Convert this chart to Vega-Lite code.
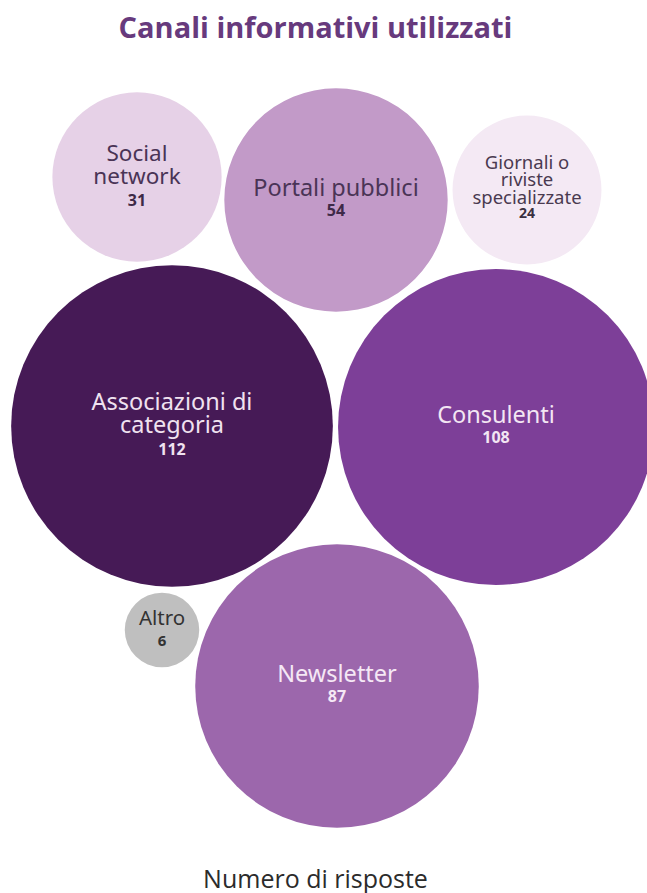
{
  "$schema": "https://vega.github.io/schema/vega-lite/v6.json",
  "width": 647,
  "height": 833,
  "autosize": {"type": "none"},
  "padding": {"top": 60, "left": 0, "right": 0, "bottom": 0},
  "background": "white",
  "title": {
    "text": "Canali informativi utilizzati",
    "orient": "top",
    "anchor": "middle",
    "frame": "group",
    "dx": -8,
    "dy": 27,
    "offset": 20,
    "baseline": "alphabetic",
    "font": "Open Sans",
    "fontSize": 29,
    "fontWeight": "bold",
    "color": "#673a7d"
  },
  "config": {"view": {"stroke": null}},
  "data": {
    "values": [
      {"name": "Social network", "label": "Social\nnetwork", "value": 31, "cx": 137, "cy": 177},
      {"name": "Portali pubblici", "label": "Portali pubblici", "value": 54, "cx": 336, "cy": 200},
      {"name": "Giornali o riviste specializzate", "label": "Giornali o\nriviste\nspecializzate", "value": 24, "cx": 527, "cy": 190},
      {"name": "Associazioni di categoria", "label": "Associazioni di\ncategoria", "value": 112, "cx": 172, "cy": 426},
      {"name": "Consulenti", "label": "Consulenti", "value": 108, "cx": 496, "cy": 427},
      {"name": "Newsletter", "label": "Newsletter", "value": 87, "cx": 337, "cy": 686},
      {"name": "Altro", "label": "Altro", "value": 6, "cx": 162, "cy": 630}
    ]
  },
  "encoding": {
    "x": {
      "field": "cx",
      "type": "quantitative",
      "scale": {"domain": [0, 647], "nice": false, "zero": false},
      "axis": {
        "title": "Numero di risposte",
        "domain": false,
        "ticks": false,
        "labels": false,
        "grid": false,
        "titleFont": "Open Sans",
        "titleFontSize": 25,
        "titleFontWeight": "normal",
        "titleColor": "#2b2b2b",
        "titleBaseline": "alphabetic",
        "titleAlign": "center",
        "titleX": 315,
        "titleY": -6
      }
    },
    "y": {
      "field": "cy",
      "type": "quantitative",
      "scale": {"domain": [60, 893], "reverse": true, "nice": false, "zero": false},
      "axis": null
    }
  },
  "layer": [
    {
      "mark": {"type": "circle", "opacity": 1, "strokeWidth": 0},
      "encoding": {
        "size": {
          "field": "value",
          "type": "quantitative",
          "scale": {"type": "linear", "zero": true, "domain": [0, 112], "range": [0, 103500]},
          "legend": null
        },
        "color": {
          "field": "name",
          "type": "nominal",
          "scale": {
            "domain": ["Social network", "Portali pubblici", "Giornali o riviste specializzate", "Associazioni di categoria", "Consulenti", "Newsletter", "Altro"],
            "range": ["#e6d1e7", "#c29ac8", "#f4e9f4", "#461a56", "#7d3f98", "#9c67ac", "#bfbfbf"]
          },
          "legend": null
        }
      }
    },
    {
      "mark": {
        "type": "text",
        "baseline": "middle",
        "align": "center",
        "font": "Noto Sans",
        "lineBreak": "\n",
        "lineHeight": {"expr": "length(split(datum.label, '\\n')) == 3 ? 17.5 : 23.5"},
        "dy": {"expr": "indexof(datum.label, '\\n') < 0 ? -11.5 : (length(split(datum.label, '\\n')) == 2 ? -23.5 : -27.5)"}
      },
      "encoding": {
        "text": {"field": "label", "type": "nominal"},
        "size": {
          "field": "name",
          "type": "nominal",
          "scale": {
            "type": "ordinal",
            "domain": ["Social network", "Portali pubblici", "Giornali o riviste specializzate", "Associazioni di categoria", "Consulenti", "Newsletter", "Altro"],
            "range": [22.5, 23.5, 18.5, 23.5, 23.5, 23.5, 20.5]
          },
          "legend": null
        },
        "color": {
          "field": "name",
          "type": "nominal",
          "scale": {
            "domain": ["Social network", "Portali pubblici", "Giornali o riviste specializzate", "Associazioni di categoria", "Consulenti", "Newsletter", "Altro"],
            "range": ["#4a3456", "#4a3456", "#4a3a50", "#f0e2f0", "#f3e6f3", "#f5e8f5", "#333333"]
          },
          "legend": null
        }
      }
    },
    {
      "mark": {
        "type": "text",
        "baseline": "middle",
        "align": "center",
        "font": "Noto Sans",
        "fontWeight": "bold",
        "dy": {"expr": "indexof(datum.label, '\\n') < 0 ? 11 : 23.5"}
      },
      "encoding": {
        "text": {"field": "value", "type": "quantitative"},
        "size": {
          "field": "name",
          "type": "nominal",
          "scale": {
            "type": "ordinal",
            "domain": ["Social network", "Portali pubblici", "Giornali o riviste specializzate", "Associazioni di categoria", "Consulenti", "Newsletter", "Altro"],
            "range": [16, 16, 14, 16, 16, 16, 15]
          },
          "legend": null
        },
        "color": {
          "field": "name",
          "type": "nominal",
          "scale": {
            "domain": ["Social network", "Portali pubblici", "Giornali o riviste specializzate", "Associazioni di categoria", "Consulenti", "Newsletter", "Altro"],
            "range": ["#3e2a48", "#3e2a48", "#3a3040", "#f0e2f0", "#f3e6f3", "#f5e8f5", "#333333"]
          },
          "legend": null
        }
      }
    }
  ],
  "resolve": {"scale": {"size": "independent", "color": "independent"}}
}
